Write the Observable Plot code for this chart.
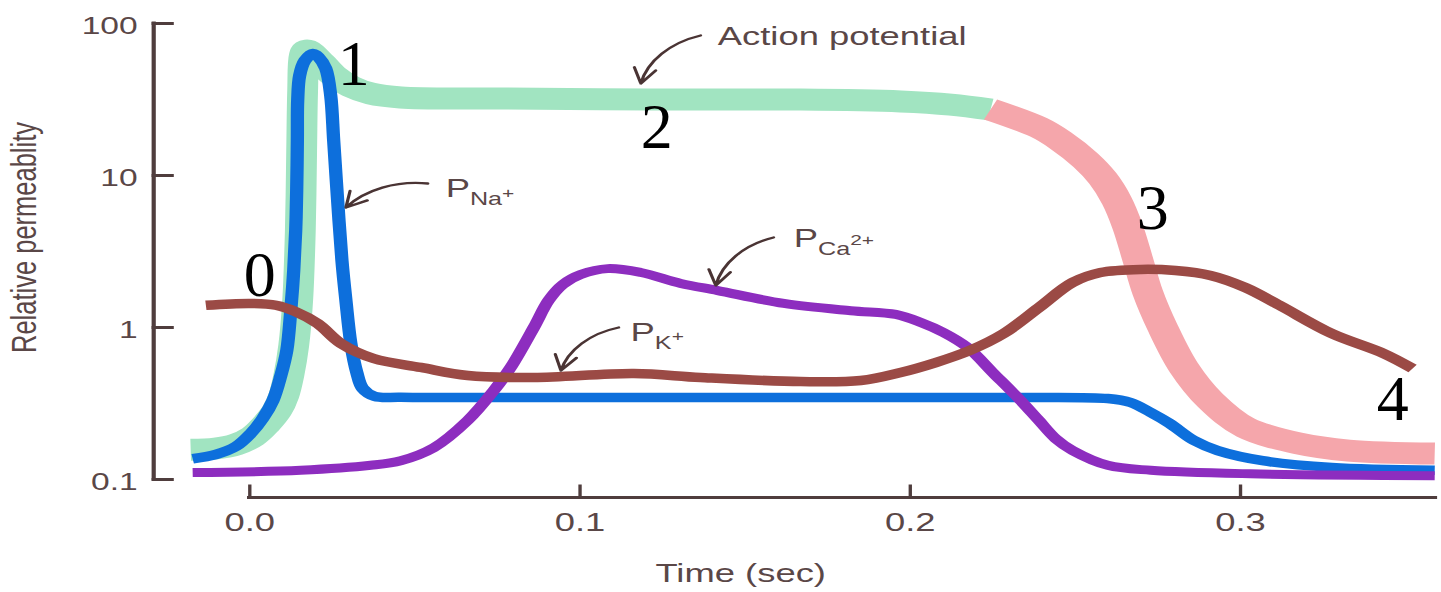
<!DOCTYPE html>
<html>
<head>
<meta charset="utf-8">
<script src="https://cdn.jsdelivr.net/npm/d3@7"></script>
<script src="https://cdn.jsdelivr.net/npm/@observablehq/plot@0.6"></script>
<style>
  html, body { margin: 0; padding: 0; background: #ffffff; }
  #chart { width: 1441px; height: 592px; overflow: hidden; }
</style>
</head>
<body>
<div id="chart"></div>
<script>
// ---------- data ----------
const timeDomain = [-0.0291, 0.3591];
const permDomain = [0.1, 100];

const xTicks = [0, 0.1, 0.2, 0.3];
const xTickLabels = ["0.0", "0.1", "0.2", "0.3"];
const yTicks = [0.1, 1, 10, 100];
const yTickLabels = ["0.1", "1", "10", "100"];
const xLabel = "Time (sec)";
const yLabel = "Relative permeablity";

// action potential, phases 0-2 (green)
const apDepolTime = [-0.0179, -0.0103, -0.0042, 0.0009, 0.0048, 0.0082, 0.0103, 0.0118, 0.0133, 0.0145, 0.0153, 0.0157, 0.0160, 0.0165, 0.0173, 0.0215, 0.0254, 0.0306, 0.0366, 0.0457, 0.0760, 0.1214, 0.1668, 0.1971, 0.2122, 0.2243];
const apDepolValue = [0.157, 0.160, 0.170, 0.192, 0.230, 0.284, 0.357, 0.483, 0.761, 1.51, 4.35, 14.6, 36.2, 61.5, 66.4, 55.4, 45.5, 38.5, 34.6, 32.6, 32.1, 31.6, 31.6, 30.7, 29.3, 27.2];
// action potential, phases 3-4 (pink)
const apRepolTime = [0.2243, 0.2389, 0.2455, 0.2531, 0.2583, 0.2625, 0.2658, 0.2688, 0.2719, 0.2764, 0.2828, 0.2909, 0.3015, 0.3173, 0.3327, 0.3588];
const apRepolValue = [27.2, 20.7, 17.0, 12.6, 9.56, 6.85, 4.62, 2.84, 1.70, 1.0, 0.546, 0.331, 0.220, 0.173, 0.155, 0.148];
// P Na+
const naTime = [-0.0173, -0.0103, -0.0042, 0.0003, 0.0039, 0.0070, 0.0094, 0.0112, 0.0124, 0.0133, 0.0139, 0.0142, 0.0144, 0.0145, 0.0151, 0.0167, 0.0191, 0.0209, 0.0230, 0.0245, 0.0254, 0.0266, 0.0279, 0.0291, 0.0306, 0.0324, 0.0342, 0.0378, 0.0457, 0.0760, 0.1668, 0.2274, 0.2598, 0.2667, 0.2728, 0.2785, 0.2858, 0.2931, 0.3067, 0.3276, 0.3588];
const naValue = [0.137, 0.146, 0.165, 0.201, 0.252, 0.331, 0.483, 0.706, 1.29, 2.37, 4.35, 7.97, 17.0, 31.1, 45.5, 57.1, 63.5, 59.8, 50.6, 33.6, 17.0, 6.85, 2.76, 1.51, 0.785, 0.506, 0.397, 0.352, 0.347, 0.346, 0.346, 0.346, 0.341, 0.321, 0.276, 0.234, 0.181, 0.155, 0.133, 0.120, 0.115];
// P Ca2+
const caTime = [-0.0173, 0.0154, 0.0366, 0.0457, 0.0557, 0.0660, 0.0739, 0.0790, 0.0860, 0.0905, 0.0948, 0.1002, 0.1084, 0.1184, 0.1305, 0.1417, 0.1617, 0.1820, 0.1956, 0.2032, 0.2101, 0.2174, 0.2253, 0.2334, 0.2389, 0.2440, 0.2492, 0.2598, 0.2728, 0.3030, 0.3588];
const caValue = [0.111, 0.115, 0.124, 0.133, 0.162, 0.245, 0.385, 0.546, 1.0, 1.51, 1.92, 2.23, 2.44, 2.30, 1.95, 1.75, 1.44, 1.29, 1.22, 1.08, 0.927, 0.739, 0.498, 0.331, 0.245, 0.186, 0.155, 0.124, 0.115, 0.109, 0.106];
// P K+
const kTime = [-0.0133, 0.0003, 0.0079, 0.0139, 0.0206, 0.0276, 0.0375, 0.0518, 0.0660, 0.0860, 0.1163, 0.1365, 0.1668, 0.1850, 0.1971, 0.2077, 0.2180, 0.2283, 0.2389, 0.2492, 0.2576, 0.2698, 0.2803, 0.2909, 0.3015, 0.3118, 0.3276, 0.3433, 0.3521];
const kValue = [1.40, 1.44, 1.40, 1.27, 1.06, 0.785, 0.625, 0.546, 0.483, 0.469, 0.498, 0.469, 0.441, 0.448, 0.506, 0.588, 0.706, 0.913, 1.35, 1.98, 2.30, 2.41, 2.37, 2.20, 1.83, 1.40, 0.913, 0.675, 0.537];

// annotations
const apLabel = ["Action potential"];
const apLabelTime = [0.1417];
const apLabelValue = [71.7];
const ionMain = ["P", "P", "P"];
const ionSub = ["Na", "Ca", "K"];
const ionSup = ["+", "2+", "+"];
const ionLabelTime = [0.0593, 0.1647, 0.1153];
const ionLabelValue = [7.17, 3.36, 0.809];
const arrowTailTime = [0.1365, 0.0539, 0.1586, 0.1117];
const arrowTailValue = [83.4, 8.86, 3.91, 1.0];
const arrowHeadTime = [0.1184, 0.0291, 0.1411, 0.0942];
const arrowHeadValue = [40.3, 6.16, 1.89, 0.521];
const phaseLabels = ["0", "1", "2", "3", "4"];
const phaseTime = [0.0030, 0.0315, 0.1232, 0.2734, 0.3461];
const phaseValue = [1.60, 39.1, 15.06, 4.48, 0.245];

// ---------- layout / style ----------
const W = 1441, H = 592;
const S = 1.4;               // the original figure is stretched horizontally
const W0 = W / S;
const axisColor = "#4f3d3d";
const textColor = "#5a4747";
const colors = {green: "#a1e4c1", pink: "#f5a6ab", blue: "#0d6fdc", purple: "#8d2dbf", brown: "#9b4a45"};
const serifFont = "'Liberation Serif', 'Times New Roman', serif";

const rows = (ts, vs) => ts.map((t, i) => ({t, v: vs[i]}));
const tickShape = {draw(context, l) { context.moveTo(0, 0); context.lineTo(0, -l); }};

const lineOpts = {x: "t", y: "v", curve: "catmull-rom", strokeLinecap: "butt", strokeLinejoin: "round"};

const chart = Plot.plot({
  width: W0,
  height: H,
  marginLeft: 153 / S,
  marginRight: 6 / S,
  marginTop: 23,
  marginBottom: 113,
  x: {domain: timeDomain, axis: null},
  y: {type: "log", domain: permDomain, axis: null},
  style: {fontFamily: "'Liberation Sans', Arial, Helvetica, sans-serif", background: "white", color: axisColor},
  marks: [
    // axes
    Plot.ruleX([timeDomain[0]], {y1: permDomain[0], y2: permDomain[1], stroke: axisColor, strokeWidth: 3, strokeLinecap: "square"}),
    Plot.ruleY([permDomain[0]], {x1: xTicks[0], x2: timeDomain[1], dy: 18, stroke: axisColor, strokeWidth: 3, strokeLinecap: "square"}),
    Plot.vector(yTicks, {x: timeDomain[0], y: d => d, length: 18 / S, rotate: 90, anchor: "start", shape: tickShape, stroke: axisColor, strokeWidth: 3, strokeLinecap: "square"}),
    Plot.vector(xTicks, {x: d => d, y: permDomain[0], dy: 18, length: 13, rotate: 0, anchor: "start", shape: tickShape, stroke: axisColor, strokeWidth: 2.4, strokeLinecap: "butt"}),
    Plot.text(yTicks, {x: timeDomain[0], y: d => d, text: (d, i) => yTickLabels[i], dx: -16 / S, dy: 10, textAnchor: "end", lineAnchor: "bottom", fontSize: 24, fill: textColor}),
    Plot.text(xTicks, {x: d => d, y: permDomain[0], text: (d, i) => xTickLabels[i], dy: 51, textAnchor: "middle", lineAnchor: "bottom", fontSize: 26, fill: textColor}),
    Plot.text([yLabel], {frameAnchor: "left", text: d => d, rotate: -90, textAnchor: "middle", lineAnchor: "middle", dx: (24 - 153) / S, dy: -14, fontSize: 25.5, fill: textColor}),
    Plot.text([xLabel], {frameAnchor: "bottom", text: d => d, textAnchor: "middle", dx: (740 - 794) / S, dy: 102, lineAnchor: "bottom", fontSize: 26, fill: textColor}),

    // curves
    Plot.line(rows(apDepolTime, apDepolValue), {...lineOpts, stroke: colors.green, strokeWidth: 22}),
    Plot.line(rows(apRepolTime, apRepolValue), {...lineOpts, stroke: colors.pink, strokeWidth: 22}),
    Plot.line(rows(naTime, naValue), {...lineOpts, stroke: colors.blue, strokeWidth: 9.5}),
    Plot.line(rows(caTime, caValue), {...lineOpts, stroke: colors.purple, strokeWidth: 9}),
    Plot.line(rows(kTime, kValue), {...lineOpts, stroke: colors.brown, strokeWidth: 9.5}),

    // annotations
    Plot.arrow(arrowTailTime.map((t, i) => i), {
      x1: i => arrowTailTime[i], y1: i => arrowTailValue[i],
      x2: i => arrowHeadTime[i], y2: i => arrowHeadValue[i],
      bend: -30, headLength: 11, headAngle: 55, stroke: "#4a3434", strokeWidth: 2.3
    }),
    Plot.text(apLabel, {x: apLabelTime, y: apLabelValue, text: d => d, textAnchor: "start", lineAnchor: "bottom", fontSize: 26, fill: textColor}),
    Plot.text(ionMain, {x: ionLabelTime, y: ionLabelValue, text: d => d, textAnchor: "start", lineAnchor: "bottom", fontSize: 26, fill: textColor}),
    Plot.text(phaseLabels, {x: phaseTime, y: phaseValue, text: d => d, textAnchor: "middle", lineAnchor: "bottom", fontSize: 64, fontFamily: serifFont, fill: "#000000"})
  ]
});

// stretch the drawing horizontally like the original figure
chart.setAttribute("width", W);
chart.setAttribute("height", H);
chart.setAttribute("viewBox", `0 0 ${W0} ${H}`);
chart.setAttribute("preserveAspectRatio", "none");
chart.style.width = W + "px";
chart.style.height = H + "px";
chart.style.maxWidth = "none";

const supRise = [7, 11, 9];
let ionIndex = 0;
d3.select(chart).selectAll("text").each(function () {
  const g = this.parentNode;
  const fam = (g && g.getAttribute && g.getAttribute("font-family")) || "";
  const content = this.textContent;
  if (fam.indexOf("Serif") >= 0 && phaseLabels.includes(content)) {
    // phase numbers were not stretched in the original: undo the stretch for them
    const tr = this.getAttribute("transform");
    if (tr) this.setAttribute("transform", tr + ` scale(${1 / S},1)`);
    else {
      const x = +this.getAttribute("x") || 0;
      this.setAttribute("transform", `translate(${x},0) scale(${1 / S},1) translate(${-x},0)`);
    }
  } else if (content === "P" && ionIndex < ionMain.length) {
    const j = ionIndex++;
    const el = d3.select(this);
    el.text(null);
    el.append("tspan").text(ionMain[j]);
    el.append("tspan").attr("dy", 8).attr("font-size", 18).text(ionSub[j]);
    el.append("tspan").attr("dy", -supRise[j]).attr("font-size", 15).text(ionSup[j]);
  }
});

document.getElementById("chart").appendChild(chart);
</script>
</body>
</html>
